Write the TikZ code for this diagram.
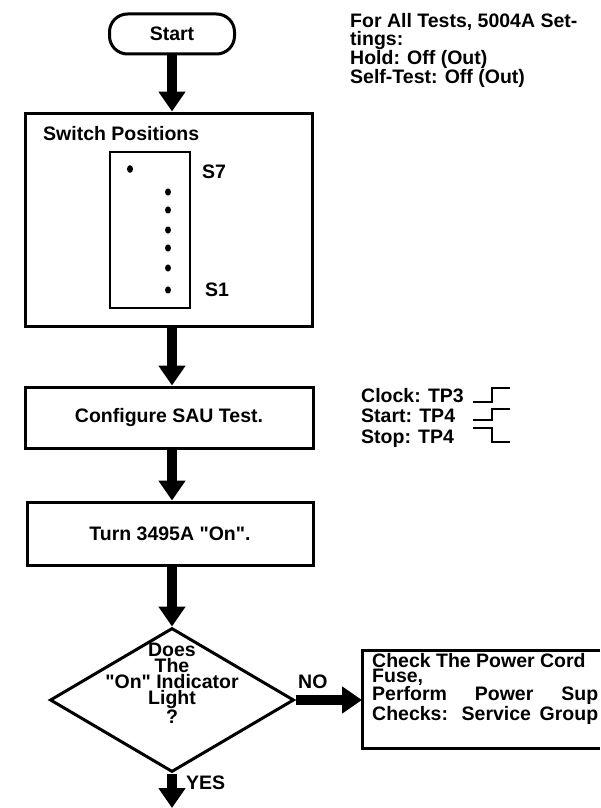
\documentclass[tikz,border=0pt]{standalone}
\usepackage{fontspec}
\setmainfont{Liberation Sans}
\newfontfamily\qfont{Liberation Sans}[Ligatures=TeXOff]
\usetikzlibrary{arrows.meta,shapes.geometric}
\newcommand{\dq}{{\qfont\symbol{34}}}
\begin{document}
\begin{tikzpicture}[x=1pt,y=-1pt,
  txt/.style={font=\fontsize{19.5}{16}\selectfont\bfseries, inner sep=0pt},
  box/.style={draw, line width=3pt, rectangle, inner sep=0pt, txt},
  flow/.style={line width=10pt, -{Triangle[width=26pt,length=20pt]}},
  wave/.style={line width=2.3pt},
  dipdot/.style={fill=black}]
\useasboundingbox (0,0) rectangle (600,808);
% start
\node[box, rounded corners=18pt, minimum width=125pt, minimum height=40pt] (start) at (172,34) {Start};
% switch positions
\node[box, minimum width=287pt, minimum height=213pt] (sw) at (168.5,219.5) {};
\node[txt, anchor=base west] (swt) at (43,140) {Switch Positions};
\node[draw, line width=2.5pt, minimum width=80pt, minimum height=156pt, inner sep=0pt] (dip) at (150,230) {};
\fill[dipdot] (130,169) ellipse (3 and 3.8);
\foreach \yy in {192,210,230,248,268,290}{\fill[dipdot] (168,\yy) ellipse (3 and 3.6);}
\node[txt, anchor=base west] (s7) at (202,178) {S7};
\node[txt, anchor=base west] (s1) at (205,296) {S1};
% configure
\node[box, minimum width=288pt, minimum height=61pt] (cfg) at (169,417.5) {Configure SAU Test.};
% turn on
\node[box, minimum width=286pt, minimum height=63pt] (turn) at (170,533.5) {Turn 3495A \dq On\dq.};
% decision
\node[diamond, draw, line width=3pt, minimum width=244pt, minimum height=144pt, inner sep=0pt] (dec) at (172,700) {};
\node[txt, align=center, anchor=north, font=\fontsize{19.5}{16}\selectfont\bfseries] (dect) at (172,643) {Does\\The\\\dq On\dq{} Indicator\\Light\\?};
% check box (cut at the right edge)
\node[rectangle, draw=none, minimum width=238pt, minimum height=98pt, inner sep=0pt, outer sep=0pt] (chk) at (481,699) {};
\draw[line width=3pt] (chk.north east) -- (chk.north west) -- (chk.south west) -- (chk.south east);
\node[txt, align=left, anchor=north west, font=\fontsize{19.5}{15.5}\selectfont\bfseries] (chkt) at (372,653) {Check The Power Cord\\Fuse,\\\makebox[226pt][s]{Perform Power Sup}\\\makebox[226pt][s]{Checks: Service Group}};
% labels
\node[txt, anchor=base west] (no) at (298,688) {NO};
\node[txt, anchor=base west] (yes) at (186,789) {YES};
% notes
\node[txt, align=left, anchor=north west, font=\fontsize{19.5}{15.5}\selectfont\bfseries] (note) at (350,13) {For All Tests, 5004A Set-\\tings:\\Hold: Off (Out)\\Self-Test: Off (Out)};
\node[txt, align=left, anchor=north west, font=\fontsize{19.5}{20.5}\selectfont\bfseries] (sig) at (361,388) {Clock: TP3\\Start: TP4\\Stop: TP4};
\draw[wave] (473,402) -- (492,402) -- (492,388) -- (510,388);
\draw[wave] (473,420) -- (492,420) -- (492,409) -- (510,409);
\draw[wave] (473,428) -- (492,428) -- (492,442) -- (510,442);
% connectors
\draw[flow] (start.south) -- (sw.north -| start.south);
\draw[flow] (sw.south -| start.south) -- (cfg.north -| start.south);
\draw[flow] (cfg.south -| start.south) -- (turn.north -| start.south);
\draw[flow] (turn.south -| start.south) -- (dec.north);
\draw[flow] (dec.east) -- (dec.east -| chk.west);
\coordinate (out) at (172,808);
\draw[flow] (dec.south) -- (out);
\end{tikzpicture}
\end{document}
